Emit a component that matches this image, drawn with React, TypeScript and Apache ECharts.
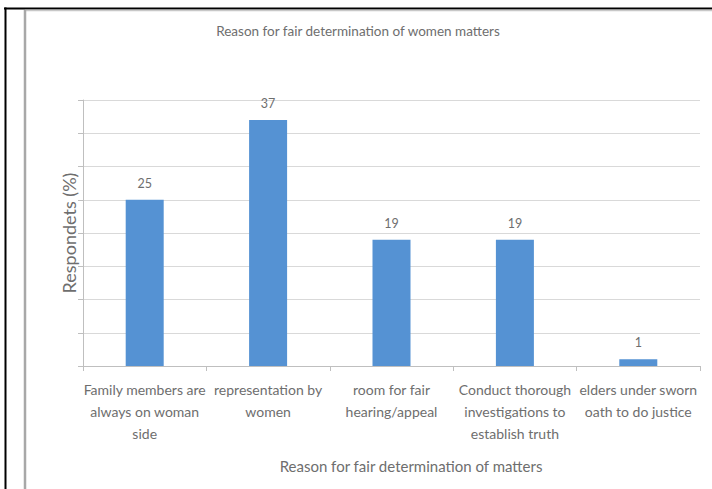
import React, { useEffect, useRef } from "react";
import * as echarts from "echarts";

const chartTitle = "Reason for fair determination of women matters";
const xAxisTitle = "Reason for fair determination of matters";
const yAxisTitle = "Respondets (%)";

const categories = [
  "Family members are\nalways on woman\nside",
  "representation by\nwomen",
  "room for fair\nhearing/appeal",
  "Conduct thorough\ninvestigations to\nestablish truth",
  "elders under sworn\noath to do justice",
];
const respondents = [25, 37, 19, 19, 1];

const yMin = 0;
const yMax = 40;
const yStep = 5;

const FONT = "Lato, 'Open Sans', sans-serif";
const TEXT = "#6e6e6e";

export default function App() {
  const ref = useRef<HTMLDivElement>(null);

  useEffect(() => {
    if (!ref.current) return;
    const chart = echarts.init(ref.current, null, { renderer: "svg" });
    chart.setOption({
      animation: false,
      backgroundColor: "#ffffff",
      textStyle: { fontFamily: FONT },
      grid: { left: 83, right: 12, top: 100, bottom: 123, containLabel: false },
      graphic: [
        // outer frame
        {
          type: "line",
          shape: { x1: 4, y1: 8.5, x2: 712, y2: 8.5 },
          style: { stroke: "#000000", lineWidth: 2 },
        },
        {
          type: "line",
          shape: { x1: 5.5, y1: 7.5, x2: 5.5, y2: 489 },
          style: { stroke: "#000000", lineWidth: 2 },
        },
        // chart area border
        {
          type: "line",
          shape: { x1: 25, y1: 10.5, x2: 712, y2: 10.5 },
          style: { stroke: "#c8c8c8", lineWidth: 1.5 },
        },
        {
          type: "line",
          shape: { x1: 25, y1: 10, x2: 25, y2: 489 },
          style: { stroke: "#a8a8a8", lineWidth: 2.5 },
        },
        {
          type: "text",
          x: 358,
          y: 31,
          style: {
            text: chartTitle,
            fill: TEXT,
            fontFamily: FONT,
            fontSize: 13.5,
            textAlign: "center",
            textVerticalAlign: "middle",
          },
        },
        {
          type: "text",
          x: 411,
          y: 466,
          style: {
            text: xAxisTitle,
            fill: TEXT,
            fontFamily: FONT,
            fontSize: 15,
            textAlign: "center",
            textVerticalAlign: "middle",
          },
        },
      ],
      xAxis: {
        type: "category",
        data: categories,
        axisLine: { show: true, lineStyle: { color: "#bfbfbf", width: 1 } },
        axisTick: { show: true, alignWithLabel: false, length: 5, lineStyle: { color: "#bfbfbf" } },
        axisLabel: {
          interval: 0,
          margin: 12,
          color: TEXT,
          fontFamily: FONT,
          fontSize: 14,
          lineHeight: 22,
        },
      },
      yAxis: {
        type: "value",
        min: yMin,
        max: yMax,
        interval: yStep,
        name: yAxisTitle,
        nameLocation: "middle",
        nameGap: 5,
        nameRotate: 90,
        nameTextStyle: { color: TEXT, fontFamily: FONT, fontSize: 18 },
        axisLabel: { show: false },
        axisLine: { show: true, lineStyle: { color: "#bfbfbf", width: 1 } },
        axisTick: { show: true, length: 5, lineStyle: { color: "#bfbfbf" } },
        splitLine: { show: true, lineStyle: { color: "#d9d9d9", width: 1 } },
      },
      series: [
        {
          type: "bar",
          data: respondents,
          barWidth: 38,
          itemStyle: { color: "#5592d3" },
          label: {
            show: true,
            position: "top",
            distance: 10,
            color: TEXT,
            fontFamily: FONT,
            fontSize: 12.5,
          },
        },
      ],
    });
    return () => chart.dispose();
  }, []);

  return (
    <div
      ref={ref}
      style={{ position: "absolute", left: 0, top: 0, width: 712, height: 489 }}
    />
  );
}
